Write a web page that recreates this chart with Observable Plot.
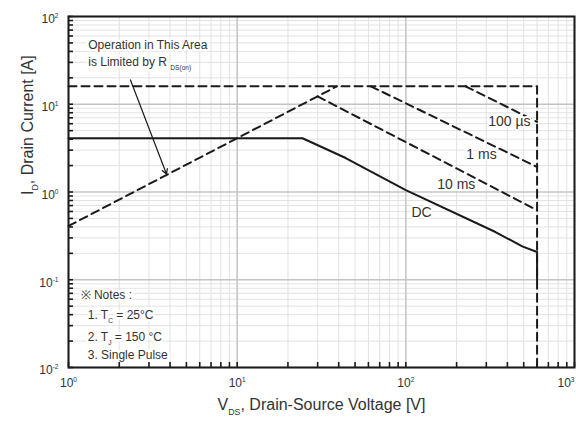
<!DOCTYPE html>
<html><head><meta charset="utf-8">
<script src="https://cdn.jsdelivr.net/npm/d3@7"></script>
<script src="https://cdn.jsdelivr.net/npm/@observablehq/plot@0.6"></script>
<style>
body{margin:0;background:#fff;}
</style></head><body><div id="chart"></div>
<script>
// ---- data (V in volts, I in amperes) ----
const xDecades = [1, 10, 100, 1000];
const yDecades = [0.01, 0.1, 1, 10, 100];
const xTickText = ["10^{0}", "10^{1}", "10^{2}", "10^{3}"];
const yTickText = ["10^{-2}", "10^{-1}", "10^{0}", "10^{1}", "10^{2}"];
const minorSteps = [2, 3, 4, 5, 6, 7, 8, 9];

const boundaryV = [1, 600, 600];
const boundaryI = [16, 16, 0.01];
const rdsV = [1, 39];
const rdsI = [0.41, 16];
const us100V = [226, 600];
const us100I = [16, 6.3];
const ms1V = [62, 600];
const ms1I = [16, 1.93];
const ms10V = [30, 600];
const ms10I = [12.3, 0.62];
const dcV = [1, 24.4, 44, 100, 340, 490, 600, 600];
const dcI = [4.1, 4.1, 2.44, 1.05, 0.35, 0.24, 0.207, 0.1];

const curveLabels = ["100 \u00b5s", "1 ms", "10 ms", "DC"];
const curveLabelV = [411, 281, 199, 124];
const curveLabelI = [6.28, 2.64, 1.23, 0.59];

const areaText = ["Operation in This Area", "is Limited by R _{DS(on)}"];
const areaTextV = [1.31, 1.31];
const areaTextI = [47.3, 30.3];
const arrowV = [2.33, 3.81];
const arrowI = [18.9, 1.6];

const notesText = ["\u203b Notes :", "1. T_{C} = 25\u00b0C", "2. T_{J} = 150 \u00b0C", "3. Single Pulse"];
const notesV = [1.18, 1.3, 1.3, 1.3];
const notesI = [0.067, 0.0396, 0.0223, 0.0139];

const xTitle = "V_{DS}, Drain-Source Voltage [V]";
const yTitle = "I_{D}, Drain Current [A]";

// ---- layout ----
const W = 576, H = 430, mL = 68, mR = 2, mT = 16, mB = 63;
const tickLen = 5;

// ---- derived ----
const xDomain = [xDecades[0], xDecades[xDecades.length - 1]];
const yDomain = [yDecades[0], yDecades[yDecades.length - 1]];
const xMinor = xDecades.slice(0, -1).flatMap(d => minorSteps.map(m => d * m));
const yMinor = yDecades.slice(0, -1).flatMap(d => minorSteps.map(m => d * m));
const xAllTicks = xMinor.concat(xDecades);
const yAllTicks = yMinor.concat(yDecades);
// tick length in pixels expressed as log-scale factors
const yTickFactor = Math.pow(yDomain[1] / yDomain[0], tickLen / (H - mT - mB));
const xTickFactor = Math.pow(xDomain[1] / xDomain[0], tickLen / (W - mL - mR));
const idx = n => ({length: n});
const ink = "#1a1a1a";
const dash = {stroke: ink, strokeWidth: 2, strokeDasharray: "8,5"};

const svg = Plot.plot({
  width: W, height: H,
  marginLeft: mL, marginRight: mR, marginTop: mT, marginBottom: mB,
  x: {type: "log", domain: xDomain, axis: null},
  y: {type: "log", domain: yDomain, axis: null},
  style: {fontFamily: "'Liberation Sans', Arial, sans-serif", fontSize: "12px", color: ink, background: "#fff"},
  marks: [
    Plot.gridX(xMinor, {stroke: "#e2e2e2", strokeOpacity: 1}),
    Plot.gridY(yMinor, {stroke: "#e2e2e2", strokeOpacity: 1}),
    Plot.gridX(xDecades, {stroke: "#c4c4c4", strokeOpacity: 1, strokeWidth: 1.5}),
    Plot.gridY(yDecades, {stroke: "#c4c4c4", strokeOpacity: 1, strokeWidth: 1.5}),
    Plot.text(xDecades, {x: d => d, text: (d, i) => xTickText[i], frameAnchor: "bottom", dy: 19, fontSize: 12, fill: "#333"}),
    Plot.text(yDecades, {y: d => d, text: (d, i) => yTickText[i], frameAnchor: "left", dx: -10, dy: 3, textAnchor: "end", fontSize: 12, fill: "#333"}),
    Plot.text([xTitle], {frameAnchor: "bottom", dy: 42, fontSize: 16, fill: "#333"}),
    Plot.text([yTitle], {frameAnchor: "left", dx: -41, dy: 3, rotate: -90, fontSize: 16, fill: "#333"}),
    // annotation text with white backing
    Plot.text(areaText, {x: areaTextV, y: areaTextI, text: d => d, textAnchor: "start", fontSize: 12, fill: "#333", stroke: "white", strokeWidth: 5}),
    Plot.text(notesText, {x: notesV, y: notesI, text: d => d, textAnchor: "start", fontSize: 12, fill: "#333", stroke: "white", strokeWidth: 5}),
    // inward tick marks
    Plot.ruleX(xAllTicks, {x: d => d, y1: yDomain[0], y2: yDomain[0] * yTickFactor, stroke: ink, strokeWidth: 1.6}),
    Plot.ruleY(yAllTicks, {y: d => d, x1: xDomain[0], x2: xDomain[0] * xTickFactor, stroke: ink, strokeWidth: 1.6}),
    Plot.line(idx(boundaryV.length), {x: boundaryV, y: boundaryI, ...dash}),
    Plot.line(idx(rdsV.length), {x: rdsV, y: rdsI, ...dash}),
    Plot.line(idx(us100V.length), {x: us100V, y: us100I, ...dash}),
    Plot.line(idx(ms1V.length), {x: ms1V, y: ms1I, ...dash}),
    Plot.line(idx(ms10V.length), {x: ms10V, y: ms10I, ...dash}),
    Plot.line(idx(dcV.length), {x: dcV, y: dcI, stroke: ink, strokeWidth: 2}),
    Plot.arrow([0], {x1: () => arrowV[0], y1: () => arrowI[0], x2: () => arrowV[1], y2: () => arrowI[1], stroke: ink, strokeWidth: 1.2, headLength: 7}),
    Plot.text(curveLabels, {x: curveLabelV, y: curveLabelI, text: d => d, fontSize: 14, fill: "#333", stroke: "white", strokeWidth: 4}),
    Plot.frame({stroke: ink, strokeWidth: 2})
  ]
});
document.getElementById("chart").appendChild(svg);

// rich text: _{sub} and ^{sup}
d3.select(svg).selectAll("text").each(function () {
  const el = this;
  const s = el.textContent;
  if (!/[_^]\{/.test(s)) return;
  const fs = parseFloat(getComputedStyle(el).fontSize) || 12;
  el.textContent = "";
  const re = /([_^])\{([^}]*)\}/g;
  let last = 0, m;
  while ((m = re.exec(s))) {
    if (m.index > last) d3.select(el).append("tspan").text(s.slice(last, m.index));
    d3.select(el).append("tspan")
      .attr("font-size", (fs * 0.55).toFixed(1))
      .attr("baseline-shift", m[1] === "^" ? (fs * 0.45).toFixed(1) : (-fs * 0.3).toFixed(1))
      .text(m[2]);
    last = re.lastIndex;
  }
  if (last < s.length) d3.select(el).append("tspan").text(s.slice(last));
});
// keep the last x tick label inside the picture
d3.select(svg).selectAll("text").filter(function () { return this.textContent === "103"; })
  .attr("text-anchor", "end");
</script>
</body></html>
